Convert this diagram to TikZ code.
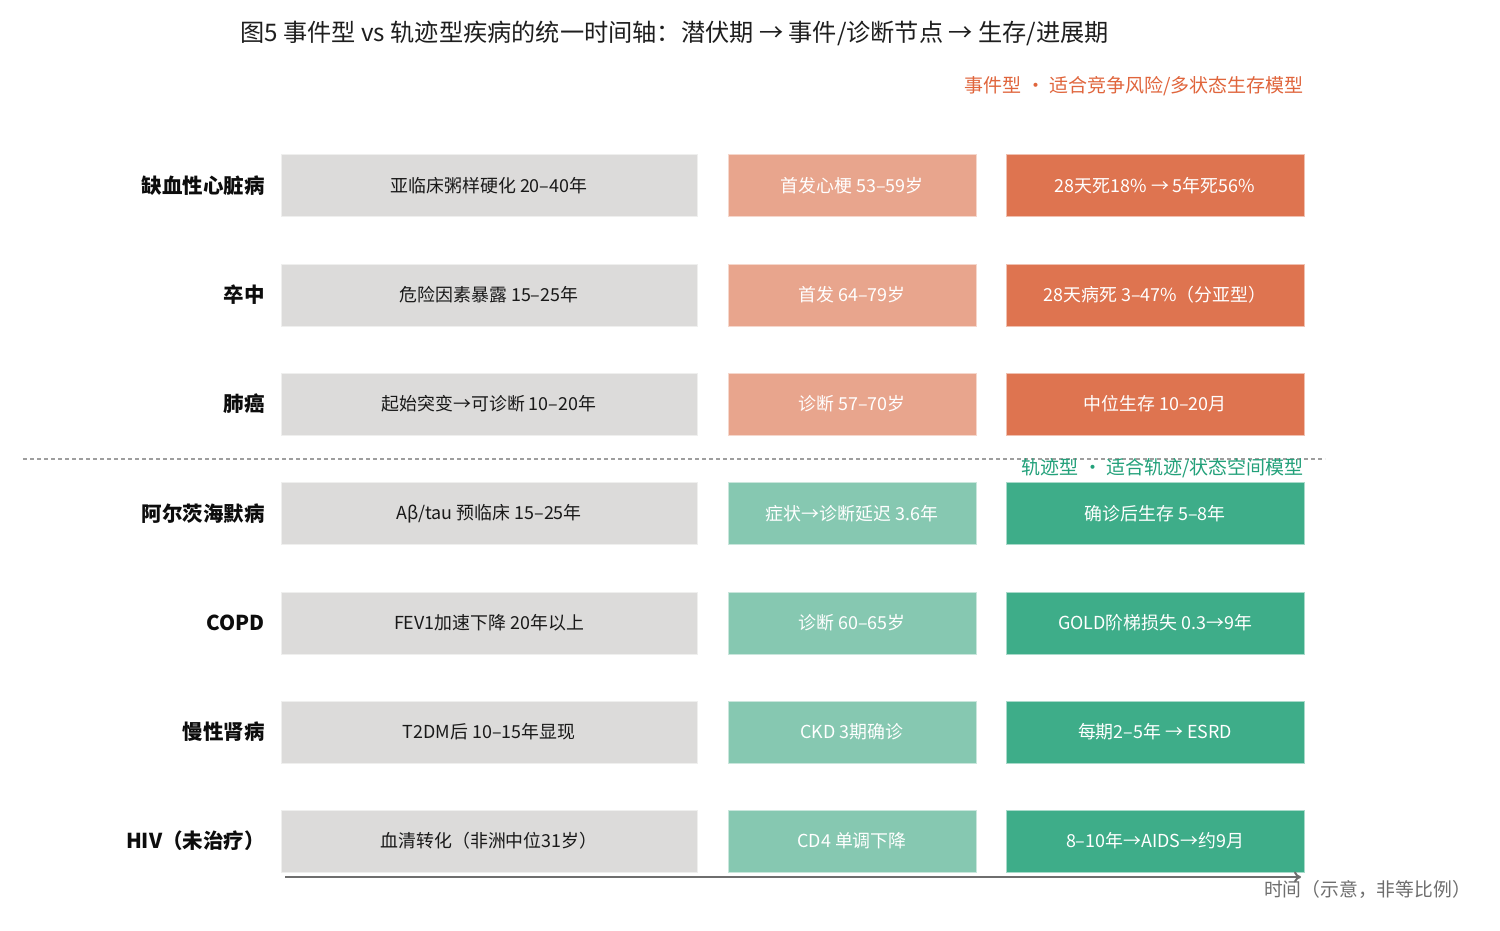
\documentclass[tikz,border=0pt]{standalone}
\usepackage{fontspec}
\setmainfont{Noto Sans CJK SC}
\usetikzlibrary{arrows.meta}
\definecolor{gfill}{HTML}{DCDBDA}
\definecolor{ofl}{HTML}{E8A58D}
\definecolor{ofd}{HTML}{DE7450}
\definecolor{gnl}{HTML}{86C8B1}
\definecolor{gnd}{HTML}{3EAD89}
\definecolor{otxt}{HTML}{E0653C}
\definecolor{gtxt}{HTML}{22A17A}
\definecolor{axisc}{HTML}{6E6E6E}
\definecolor{titlec}{HTML}{1E1E1E}
\tikzset{
  cell/.style={minimum height=62pt, inner sep=0pt, line width=1pt, font=\fontsize{17.9}{21}\selectfont},
  latent/.style={cell, minimum width=416pt, fill=gfill, draw=gfill!45!white, text=black!90},
  evtl/.style={cell, minimum width=248pt, fill=ofl, draw=ofl!45!white, text=white},
  evtd/.style={cell, minimum width=298pt, fill=ofd, draw=ofd!45!white, text=white},
  trjl/.style={cell, minimum width=248pt, fill=gnl, draw=gnl!45!white, text=white},
  trjd/.style={cell, minimum width=298pt, fill=gnd, draw=gnd!45!white, text=white},
  rowlabel/.style={anchor=east, inner sep=0pt, font=\fontsize{20.5}{24}\selectfont\bfseries, text=black!95},
}
\newcommand\diseaserow[7]{%
  \node[rowlabel] (r#1l) at (265,#2) {#3};
  \node[latent] (r#1a) at (489,#2) {#4};
  \node[#7l] (r#1b) at (852,#2) {#5};
  \node[#7d] (r#1c) at (1155,#2) {#6};
}
\begin{document}
\begin{tikzpicture}[x=1pt,y=-1pt]
\useasboundingbox (0,0) rectangle (1500,930);
\fill[white] (0,0) rectangle (1500,930);
\node[anchor=west, inner sep=0pt, text=titlec, font=\fontsize{24.2}{28}\selectfont] (title) at (240,33)
  {图5 事件型 vs 轨迹型疾病的统一时间轴：潜伏期 → 事件/诊断节点 → 生存/进展期};
\node[anchor=east, inner sep=0pt, text=otxt, font=\fontsize{19}{22}\selectfont] (evlab) at (1304,86)
  {事件型 · 适合竞争风险/多状态生存模型};
\diseaserow{1}{185.5}{缺血性心脏病}{亚临床粥样硬化 20–40年}{首发心梗 53–59岁}{28天死18\% → 5年死56\%}{evt}
\diseaserow{2}{295}{卒中}{危险因素暴露 15–25年}{首发 64–79岁}{28天病死 3–47\%（分亚型）}{evt}
\diseaserow{3}{404}{肺癌}{起始突变→可诊断 10–20年}{诊断 57–70岁}{中位生存 10–20月}{evt}
\coordinate (dashl) at (23,459);
\coordinate (dashr) at (1325,459);
\draw[black!38, line width=1.2pt, dash pattern=on 4pt off 3pt] (dashl) -- (dashr);
\node[anchor=east, inner sep=0pt, text=gtxt, font=\fontsize{19}{22}\selectfont] (trlab) at (1304,468)
  {轨迹型 · 适合轨迹/状态空间模型};
\diseaserow{4}{513.5}{阿尔茨海默病}{Aβ/tau 预临床 15–25年}{症状→诊断延迟 3.6年}{确诊后生存 5–8年}{trj}
\diseaserow{5}{623}{COPD}{FEV1加速下降 20年以上}{诊断 60–65岁}{GOLD阶梯损失 0.3→9年}{trj}
\diseaserow{6}{732}{慢性肾病}{T2DM后 10–15年显现}{CKD 3期确诊}{每期2–5年 → ESRD}{trj}
\diseaserow{7}{841}{HIV（未治疗）}{血清转化（非洲中位31岁）}{CD4 单调下降}{8–10年→AIDS→约9月}{trj}
\coordinate (axs) at (285,877);
\coordinate (axe) at (1301,877);
\draw[axisc, line width=2pt, -{To[length=7pt,width=11pt]}] (axs) -- (axe);
\node[anchor=east, inner sep=0pt, text=axisc, font=\fontsize{18.8}{22}\selectfont] (axlab) at (1471,889)
  {时间（示意，非等比例）};
\end{tikzpicture}
\end{document}
